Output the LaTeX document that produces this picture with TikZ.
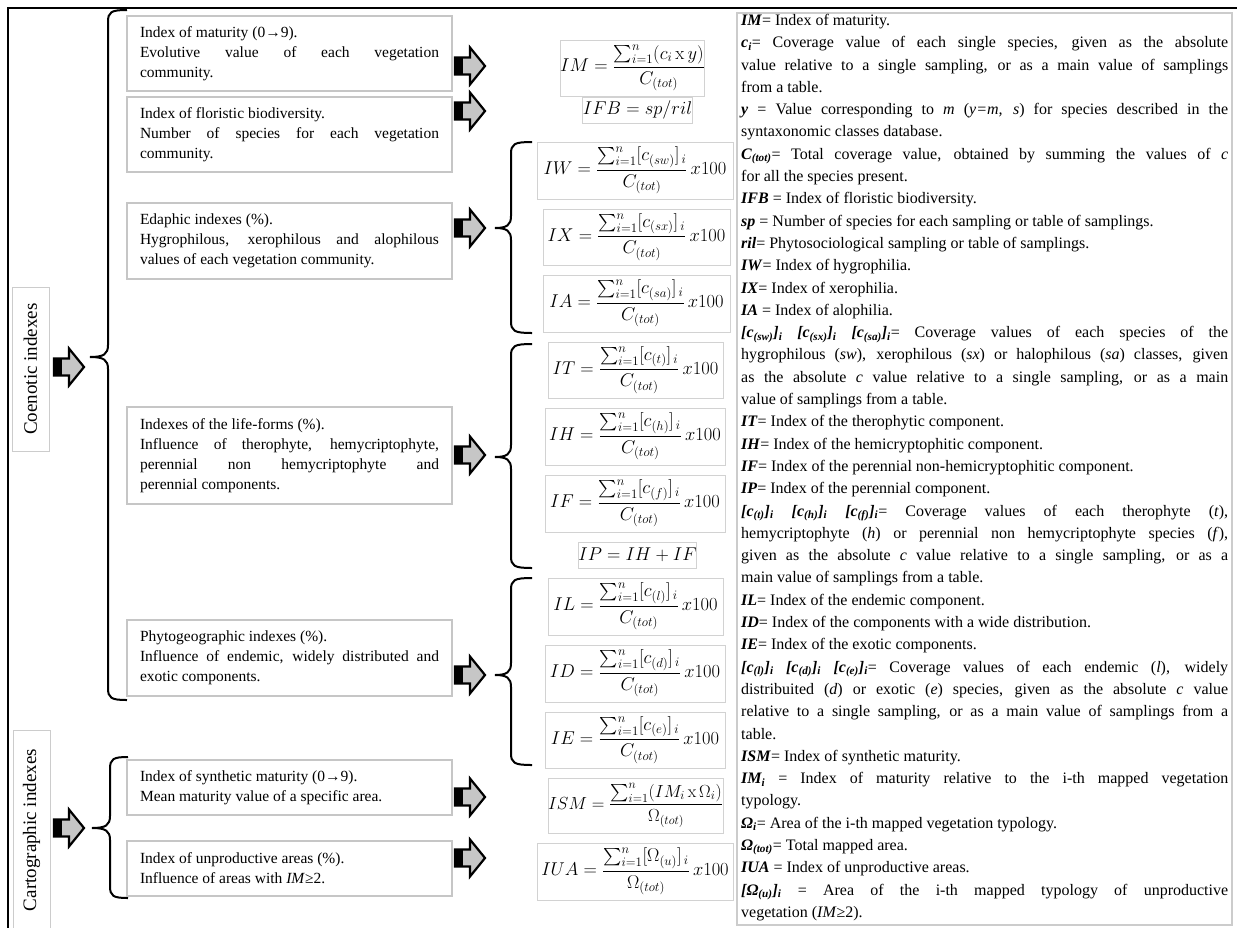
\RequirePackage{fix-cm}
\documentclass[tikz,border=0pt]{standalone}
\usepackage{amsmath}
\usepackage[no-math]{fontspec}
\setmainfont{Liberation Serif}
\newcommand\mysub[1]{\textsubscript{#1}}
\newcommand\bi[1]{\textbf{\textit{#1}}}
\newcommand\mybrace[6]{%
  \draw[bracestyle] (#6,#2) .. controls (#1+3,#2) and (#1,#2+2) .. (#1,#2+12)
    -- (#1,#5-12) .. controls (#1,#5-3) and (#1-4,#5) .. (#4,#5)
    .. controls (#1-4,#5) and (#1,#5+3) .. (#1,#5+12)
    -- (#1,#3-12) .. controls (#1,#3-2) and (#1+3,#3) .. (#6,#3);}
\tikzset{
  bracestyle/.style={line width=2pt, black},
  lbox/.style={draw=gray!45, line width=1.2pt, text width=299pt, inner xsep=13pt,
    inner ysep=0pt, align=justify, minimum height=#1,
    font=\fontsize{15.5}{20}\selectfont},
  fbox/.style={draw=gray!35, line width=1pt, inner sep=0pt,
    font=\fontsize{18.5}{21}\selectfont},
  vlabel/.style={draw=gray!40, line width=1pt, rotate=90, minimum height=37pt,
    inner sep=0pt, font=\fontsize{19}{21}\selectfont},
  blockarrow/.pic={
    \filldraw[fill=gray!45, draw=black, line width=2.2pt, line join=miter]
      (-15,-8.5) -- (0,-8.5) -- (0,-18.5) -- (15,0) -- (0,18.5) -- (0,8.5) -- (-15,8.5) -- cycle;
    \fill[black] (-15,-8.5) rectangle (-7,8.5);
  }
}
\begin{document}
\begin{tikzpicture}[x=1pt,y=-1pt]
\useasboundingbox (0,0) rectangle (1237,927);
% outer frame
\draw[line width=2.2pt] (8,935) -- (8,8) -- (1245,8);

% side labels
\node[vlabel, minimum width=164pt] (coen) at (30.5,369) {Coenotic indexes};
\node[vlabel, minimum width=200pt] (carto) at (31.5,830) {Cartographic indexes};

% main arrows
\pic (ac) at (69,367) {blockarrow};
\pic (ak) at (69,828) {blockarrow};

% big braces
\mybrace{108}{10}{700}{90}{357}{127}
\mybrace{110}{757}{898}{92}{828}{128}

% left description boxes
\node[lbox=75pt] (b1) at (289.5,53.5) {Index of maturity (0→9).\\
Evolutive value of each vegetation\linebreak community.};
\node[lbox=75pt] (b2) at (289.5,134.5) {Index of floristic biodiversity.\\
Number of species for each vegetation\linebreak community.};
\node[lbox=76pt] (b3) at (289.5,241) {Edaphic indexes (\%).\\
Hygrophilous, xerophilous and alophilous\linebreak values of each vegetation community.};
\node[lbox=97pt] (b4) at (289.5,455.5) {Indexes of the life-forms (\%).\\
Influence of therophyte, hemycriptophyte,\linebreak perennial non hemycriptophyte and\linebreak perennial components.};
\node[lbox=76pt] (b5) at (289.5,658) {Phytogeographic indexes (\%).\\
Influence of endemic, widely distributed and\linebreak exotic components.};
\node[lbox=55pt] (b6) at (289.5,787.5) {Index of synthetic maturity (0→9).\\
Mean maturity value of a specific area.};
\node[lbox=55pt] (b7) at (289.5,868.5) {Index of unproductive areas (\%).\\
Influence of areas with \textit{IM}≥2.};

% box arrows
\pic (a1) at (470,66) {blockarrow};
\pic (a2) at (470,111) {blockarrow};
\pic (a3) at (470,228) {blockarrow};
\pic (a4) at (470,455) {blockarrow};
\pic (a5) at (470,675) {blockarrow};
\pic (a6) at (470,797) {blockarrow};
\pic (a7) at (470,858) {blockarrow};

% small braces
\mybrace{511}{142}{333}{495}{228}{532}
\mybrace{511}{344}{568}{495}{457}{532}
\mybrace{511}{578}{765}{495}{675}{532}

% formula boxes
\node[fbox, minimum width=139pt, minimum height=56pt] (fIM) at (632.5,68)
  {$IM=\dfrac{\sum_{i=1}^{n}(c_i\,\mathrm{x}\,y)}{C_{(tot)}}$};
\node[fbox, minimum width=105pt, minimum height=26pt] (fIFB) at (637.5,110)
  {$IFB=sp/ril$};
\node[fbox, minimum width=196pt, minimum height=57pt] (fIW) at (635,170.5)
  {$IW=\dfrac{\sum_{i=1}^{n}[c_{(sw)}]_{\,i}}{C_{(tot)}}\,x100$};
\node[fbox, minimum width=187pt, minimum height=56pt] (fIX) at (636.5,237)
  {$IX=\dfrac{\sum_{i=1}^{n}[c_{(sx)}]_{\,i}}{C_{(tot)}}\,x100$};
\node[fbox, minimum width=187pt, minimum height=57pt] (fIA) at (636.5,303.5)
  {$IA=\dfrac{\sum_{i=1}^{n}[c_{(sa)}]_{\,i}}{C_{(tot)}}\,x100$};
\node[fbox, minimum width=175pt, minimum height=56pt] (fIT) at (635.5,370)
  {$IT=\dfrac{\sum_{i=1}^{n}[c_{(t)}]_{\,i}}{C_{(tot)}}\,x100$};
\node[fbox, minimum width=180pt, minimum height=57pt] (fIH) at (635,436.5)
  {$IH=\dfrac{\sum_{i=1}^{n}[c_{(h)}]_{\,i}}{C_{(tot)}}\,x100$};
\node[fbox, minimum width=180pt, minimum height=57pt] (fIF) at (635,503.5)
  {$IF=\dfrac{\sum_{i=1}^{n}[c_{(f)}]_{\,i}}{C_{(tot)}}\,x100$};
\node[fbox, minimum width=109pt, minimum height=26pt] (fIP) at (637.5,555)
  {$IP=IH+IF$};
\node[fbox, minimum width=175pt, minimum height=57pt] (fIL) at (635.5,606.5)
  {$IL=\dfrac{\sum_{i=1}^{n}[c_{(l)}]_{\,i}}{C_{(tot)}}\,x100$};
\node[fbox, minimum width=180pt, minimum height=57pt] (fID) at (635,673.5)
  {$ID=\dfrac{\sum_{i=1}^{n}[c_{(d)}]_{\,i}}{C_{(tot)}}\,x100$};
\node[fbox, minimum width=180pt, minimum height=56pt] (fIE) at (635,740)
  {$IE=\dfrac{\sum_{i=1}^{n}[c_{(e)}]_{\,i}}{C_{(tot)}}\,x100$};
\node[fbox, minimum width=175pt, minimum height=55pt, font=\fontsize{17.5}{20}\selectfont] (fISM) at (635.5,805.5)
  {$ISM=\dfrac{\sum_{i=1}^{n}(IM_i\,\mathrm{x}\,\Omega_i)}{\Omega_{(tot)}}$};
\node[fbox, minimum width=196pt, minimum height=57pt] (fIUA) at (635,871.5)
  {$IUA=\dfrac{\sum_{i=1}^{n}[\Omega_{(u)}]_{\,i}}{\Omega_{(tot)}}\,x100$};

% right legend box
\node[draw=gray!40, line width=1.2pt, minimum width=495pt, minimum height=912pt, inner sep=0pt] (legbox) at (984.5,469) {};
\node[anchor=north west, inner sep=0pt, text width=487pt, align=justify,
  font=\fontsize{16}{22.3}\selectfont] (leg) at (741,14) {%
\bi{IM}= Index of maturity.\par
\bi{c\mysub{i}}= Coverage value of each single species, given as the absolute\linebreak value relative to a single sampling, or as a main value of samplings\linebreak from a table.\par
\bi{y} = Value corresponding to \textit{m} (\textit{y=m, s}) for species described in the\linebreak syntaxonomic classes database.\par
\bi{C\mysub{(tot)}}= Total coverage value, obtained by summing the values of \textit{c}\linebreak for all the species present.\par
\bi{IFB} = Index of floristic biodiversity.\par
\bi{sp} = Number of species for each sampling or table of samplings.\par
\bi{ril}= Phytosociological sampling or table of samplings.\par
\bi{IW}= Index of hygrophilia.\par
\bi{IX}= Index of xerophilia.\par
\bi{IA} = Index of alophilia.\par
\bi{[c\mysub{(sw)}]\mysub{i}} \bi{[c\mysub{(sx)}]\mysub{i}} \bi{[c\mysub{(sa)}]\mysub{i}}= Coverage values of each species of the\linebreak hygrophilous (\textit{sw}), xerophilous (\textit{sx}) or halophilous (\textit{sa}) classes, given\linebreak as the absolute \textit{c} value relative to a single sampling, or as a main\linebreak value of samplings from a table.\par
\bi{IT}= Index of the therophytic component.\par
\bi{IH}= Index of the hemicryptophitic component.\par
\bi{IF}= Index of the perennial non-hemicryptophitic component.\par
\bi{IP}= Index of the perennial component.\par
\bi{[c\mysub{(t)}]\mysub{i}} \bi{[c\mysub{(h)}]\mysub{i}} \bi{[c\mysub{(f)}]\mysub{i}}= Coverage values of each therophyte (\textit{t}),\linebreak hemycriptophyte (\textit{h}) or perennial non hemycriptophyte species (\textit{f}),\linebreak given as the absolute \textit{c} value relative to a single sampling, or as a\linebreak main value of samplings from a table.\par
\bi{IL}= Index of the endemic component.\par
\bi{ID}= Index of the components with a wide distribution.\par
\bi{IE}= Index of the exotic components.\par
\bi{[c\mysub{(l)}]\mysub{i}} \bi{[c\mysub{(d)}]\mysub{i}} \bi{[c\mysub{(e)}]\mysub{i}}= Coverage values of each endemic (\textit{l}), widely\linebreak distribuited (\textit{d}) or exotic (\textit{e}) species, given as the absolute \textit{c} value\linebreak relative to a single sampling, or as a main value of samplings from a\linebreak table.\par
\bi{ISM}= Index of synthetic maturity.\par
\bi{IM\mysub{i}} = Index of maturity relative to the i-th mapped vegetation\linebreak typology.\par
\bi{Ω\mysub{i}}= Area of the i-th mapped vegetation typology.\par
\bi{Ω\mysub{(tot)}}= Total mapped area.\par
\bi{IUA} = Index of unproductive areas.\par
\bi{[Ω\mysub{(u)}]\mysub{i}} = Area of the i-th mapped typology of unproductive\linebreak vegetation (\textit{IM}≥2).};
\end{tikzpicture}
\end{document}
